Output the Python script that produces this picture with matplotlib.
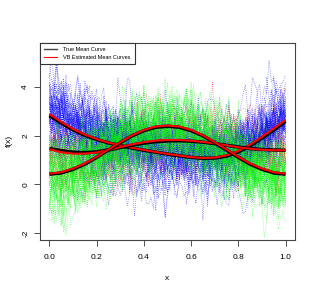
import numpy as np
import matplotlib.pyplot as plt

plt.rcParams['font.family'] = ['Liberation Sans', 'DejaVu Sans']

x_pts = [0.0, 0.05, 0.1, 0.15, 0.2, 0.25, 0.3, 0.35, 0.4, 0.45, 0.5,
         0.55, 0.6, 0.65, 0.7, 0.75, 0.8, 0.85, 0.9, 0.95, 1.0]

# true mean curves (black)
true_blue = [2.82, 2.51, 2.23, 2.01, 1.84, 1.70, 1.59, 1.49, 1.40, 1.32, 1.24,
             1.17, 1.11, 1.07, 1.08, 1.16, 1.33, 1.58, 1.90, 2.23, 2.58]
true_red = [1.47, 1.38, 1.32, 1.30, 1.33, 1.41, 1.51, 1.61, 1.69, 1.75, 1.78,
            1.79, 1.77, 1.73, 1.67, 1.60, 1.53, 1.47, 1.43, 1.41, 1.40]
true_green = [0.42, 0.47, 0.62, 0.83, 1.11, 1.41, 1.71, 1.99, 2.20, 2.34, 2.38,
              2.34, 2.20, 1.99, 1.71, 1.41, 1.11, 0.83, 0.62, 0.47, 0.42]

# VB estimated mean curves (red)
est_blue = [2.88, 2.56, 2.27, 2.04, 1.86, 1.71, 1.60, 1.50, 1.41, 1.33, 1.25,
            1.18, 1.12, 1.08, 1.10, 1.19, 1.37, 1.63, 1.95, 2.29, 2.64]
est_red = [1.44, 1.32, 1.26, 1.26, 1.31, 1.41, 1.53, 1.64, 1.73, 1.79, 1.82,
           1.82, 1.79, 1.74, 1.68, 1.60, 1.52, 1.46, 1.42, 1.40, 1.40]
est_green = [0.44, 0.50, 0.65, 0.86, 1.13, 1.43, 1.73, 2.01, 2.23, 2.37, 2.41,
             2.37, 2.23, 2.01, 1.73, 1.43, 1.13, 0.86, 0.65, 0.50, 0.44]

x_ticks = [0.0, 0.2, 0.4, 0.6, 0.8, 1.0]
y_ticks = [-2, 0, 2, 4]
legend_labels = ["True Mean Curve", "VB Estimated Mean Curves"]

# observed curves: (colour, count, mean, curve-to-curve sd, within-curve sd), spread read from the cloud
groups = [("red", 15, true_red, 0.45, 0.5),
          ("blue", 50, true_blue, 0.55, 0.5),
          ("#00ff00", 50, true_green, 0.5, 0.5)]

fig = plt.figure(figsize=(3.16, 2.94), dpi=100)
ax = fig.add_axes([40/316, 54/294, 255/316, 197.3/294])

# the sample cloud is texture only (individual curves can't be read)
rng = np.random.default_rng(11)
xs = np.linspace(0, 1, 101)
for col, n, mu, sd_b, sd_e in groups:
    base = np.interp(xs, x_pts, mu)
    for i in range(n):
        off = rng.normal(0, sd_b) + rng.normal(0, sd_b*0.6)*(xs-0.5)*2
        yv = base + off + rng.normal(0, sd_e, xs.size)
        ax.plot(xs, yv, color=col, lw=0.5, ls=(0, (1, 2)), alpha=0.7)

for tr, es in [(true_blue, est_blue), (true_red, est_red), (true_green, est_green)]:
    ax.plot(x_pts, tr, color='black', lw=2.5, solid_capstyle='butt')
    ax.plot(x_pts, es, color='red', lw=1.5, solid_capstyle='butt')

ax.set_xlim(-0.04, 1.04)
ax.set_ylim(-2.274, 5.80)
ax.set_xticks(x_ticks)
ax.set_xticklabels(["0.0", "0.2", "0.4", "0.6", "0.8", "1.0"])
ax.set_yticks(y_ticks)
ax.set_yticklabels([str(v) for v in y_ticks], rotation=90, va='center')
ax.tick_params(labelsize=6, length=4.3, width=0.6, color='#333333')
ax.tick_params(axis='x', pad=5.5)
ax.tick_params(axis='y', pad=3.5)
for s in ax.spines.values():
    s.set_linewidth(0.8)
    s.set_color('#444444')

ax.set_xlabel("x", fontsize=6)
ax.xaxis.set_label_coords(0.5, -0.193)
ax.xaxis.label.set_va('center')
ax.set_ylabel("f(x)", fontsize=6)
ax.yaxis.set_label_coords(-0.12, 0.5)
ax.yaxis.label.set_va('center')

h1, = ax.plot([], [], color='#444444', lw=1.0)
h2, = ax.plot([], [], color='red', lw=0.8)
leg = ax.legend([h1, h2], legend_labels, loc='upper left', bbox_to_anchor=(0, 1),
                borderaxespad=0, fancybox=False, framealpha=1, edgecolor='#333333',
                fontsize=4.0, handlelength=2.2, handletextpad=1.1, borderpad=0.8,
                labelspacing=0.5)
leg.get_frame().set_linewidth(0.8)

fig.savefig("out.png", dpi=100)
